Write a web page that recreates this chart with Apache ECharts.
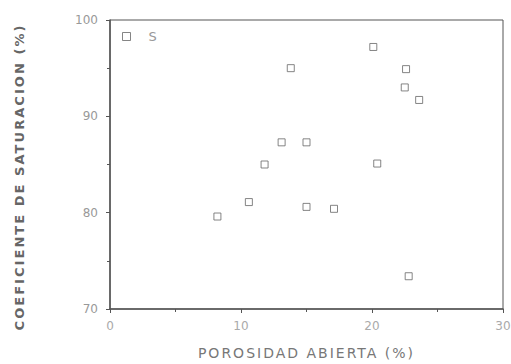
<!DOCTYPE html>
<html>
<head>
<meta charset="utf-8">
<script src="https://cdn.jsdelivr.net/npm/echarts@6/dist/echarts.min.js"></script>
<style>
  html, body { margin: 0; padding: 0; background: #fff; }
  #chart { width: 511px; height: 364px; }
  /* wide plotter-style spacing for the two axis titles */
  #chart text[style*="14px"] { letter-spacing: 2px; }
  #chart text[style*="bold"] { letter-spacing: 2.05px; }
</style>
</head>
<body>
<div id="chart"></div>
<script>
// Open porosity (%) against saturation coefficient (%)
const porosidad = [8.2, 10.6, 11.8, 13.1, 13.8, 15.0, 15.0, 17.1, 20.1, 20.4, 22.6, 22.5, 23.6, 22.8];
const saturacion = [79.6, 81.1, 85.0, 87.3, 95.0, 87.3, 80.6, 80.4, 97.2, 85.1, 94.9, 93.0, 91.7, 73.4];
const xTicks = [0, 10, 20, 30];
const yTicks = [70, 80, 90, 100];
const serieNombre = 'S';

const puntos = porosidad.map((x, i) => [x, saturacion[i]]);

const ink = '#555';
const soft = '#999';
const font = 'DejaVu Sans';

const chart = echarts.init(document.getElementById('chart'), null, { renderer: 'svg' });
chart.setOption({
  animation: false,
  backgroundColor: '#fff',
  grid: {
    left: 110, top: 20, width: 393, height: 289,
    containLabel: false, outerBoundsMode: 'none',
    show: true, borderColor: ink, borderWidth: 1
  },
  legend: {
    left: 122, top: 30, padding: 0,
    itemWidth: 8, itemHeight: 8, itemGap: 6,
    itemStyle: { color: '#fff', borderColor: '#666', borderWidth: 1 },
    textStyle: { color: soft, fontFamily: font, fontSize: 13, padding: [0, 0, 0, 13] },
    data: [serieNombre]
  },
  xAxis: {
    type: 'value', min: xTicks[0], max: xTicks[xTicks.length - 1], interval: 10,
    name: 'POROSIDAD ABIERTA (%)', nameLocation: 'middle', nameGap: 37,
    nameTextStyle: { color: '#777', fontFamily: font, fontSize: 14 },
    axisLine: { lineStyle: { color: ink, width: 1.5 } },
    axisTick: { show: true, length: 4, lineStyle: { color: ink } },
    minorTick: { show: true, splitNumber: 2, length: 3, lineStyle: { color: ink } },
    axisLabel: { color: '#aaa', fontFamily: font, fontSize: 12, margin: 11 },
    splitLine: { show: false }
  },
  yAxis: {
    type: 'value', min: yTicks[0], max: yTicks[yTicks.length - 1], interval: 10,
    name: 'COEFICIENTE DE SATURACION (%)', nameLocation: 'middle', nameGap: 84,
    nameTextStyle: {
      color: '#666', fontFamily: font, fontSize: 13, fontWeight: 'bold',
      padding: [0, 25, 0, 0]
    },
    axisLine: { lineStyle: { color: ink, width: 1.5 } },
    axisTick: { show: true, length: 4, lineStyle: { color: ink } },
    minorTick: { show: true, splitNumber: 2, length: 3, lineStyle: { color: ink } },
    axisLabel: { color: soft, fontFamily: font, fontSize: 12, margin: 12 },
    splitLine: { show: false }
  },
  series: [{
    name: serieNombre,
    type: 'scatter',
    symbol: 'rect',
    symbolSize: 7,
    itemStyle: { color: '#fff', borderColor: '#666', borderWidth: 1 },
    data: puntos
  }]
});
</script>
</body>
</html>
